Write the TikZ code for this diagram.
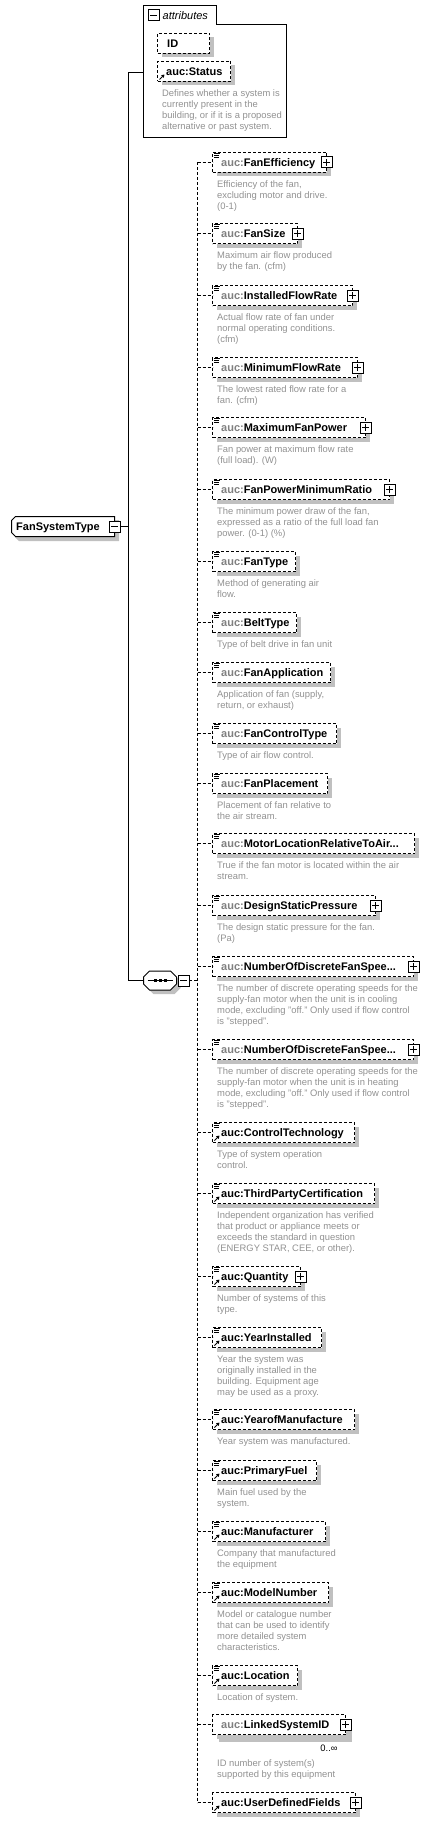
\documentclass[tikz,border=0pt]{standalone}
\usepackage{fontspec}
\setmainfont{Liberation Sans}
\usetikzlibrary{calc,arrows.meta}
\definecolor{shadowc}{RGB}{192,192,192}
\definecolor{descc}{RGB}{145,145,145}
\definecolor{pfxc}{RGB}{128,128,128}
\tikzset{
  shadowed/.style={preaction={draw=none, fill=shadowc, transform canvas={shift={(4pt,-4pt)}}}},
  ebox/.style={rectangle, draw, dash pattern=on 3pt off 2pt, line width=1pt, fill=white, shadowed, minimum height=20pt, inner sep=0pt, outer sep=0pt},
  etext/.style={anchor=base west, inner sep=0pt, font=\bfseries\fontsize{11}{13}\selectfont},
  desc/.style={anchor=base west, inner sep=0pt, text=descc, font=\fontsize{9.4}{11}\selectfont},
  pmbox/.style={rectangle, draw, line width=1pt, fill=white, minimum size=11pt, inner sep=0pt, outer sep=0pt},
  plusbox/.style={pmbox, path picture={\draw[line width=1pt] ($(path picture bounding box.center)+(-3.5,0)$) -- ++(7,0) ($(path picture bounding box.center)+(0,-3.5)$) -- ++(0,7);}},
  minusbox/.style={pmbox, path picture={\draw[line width=1pt] ($(path picture bounding box.center)+(-3.5,0)$) -- ++(7,0);}},
  conn/.style={line width=1pt},
  dconn/.style={line width=1pt, dash pattern=on 3pt off 2pt},
  annl/.style={line width=0.8pt},
  refarrow/.style={line width=1pt, -{Triangle[length=3pt,width=3.5pt]}},
}
\newcommand\elem[5]{%
  \node[ebox, minimum width={#3-212}, anchor=north west] (#1) at (212.5,#2+0.5) {};
  \draw[dconn] (spine |- #1.west) -- (#1.west);
  \node[etext] (#1-t) at ($(#1.west)+(8.5,4)$) {\textcolor{#4}{auc:}#5};}
\newcommand\descr[3][0]{\foreach \dl [count=\i] in {#3}{\node[desc] (#2-d\i) at ($(#2.south west)+(4.5,#1+4+11*\i)$) {\dl};}}
\newcommand\plusmark[1]{\node[plusbox] (#1-p) at (#1.east) {};}
\newcommand\annmark[1]{\draw[annl] ($(#1.north west)+(1.5,0.5)$) -- ++(6,0) ($(#1.north west)+(1.5,2.5)$) -- ++(5,0) ($(#1.north west)+(1.5,4.5)$) -- ++(5,0);}
\newcommand\refmark[1]{\draw[refarrow] ($(#1.south west)+(2,-2)$) -- ++(5,-5);}
\begin{document}
\begin{tikzpicture}[x=1pt, y=-1pt]
\useasboundingbox (0,0) rectangle (428,1822);
\coordinate (spine) at (197.5,980.5);
% attributes
\draw[conn] (143.5,5.5) -- (216.5,5.5) -- (216.5,24.5) -- (286.5,24.5) -- (286.5,137.5) -- (143.5,137.5) -- cycle;
\coordinate (attrbody) at (143.5,72.5);
\node[minusbox] (attr-m) at (153.5,15.5) {};
\node[anchor=base west, inner sep=0pt, font=\itshape\fontsize{11}{13}\selectfont] (attr-t) at (162.5,19.5) {attributes};
\node[ebox, minimum width=52pt, anchor=north west] (id) at (157.5,33.5) {};
\node[etext] (id-t) at ($(id.west)+(9.5,4)$) {ID};
\node[ebox, minimum width=73pt, anchor=north west] (status) at (157.5,61.5) {};
\node[etext] (status-t) at ($(status.west)+(8.5,4)$) {auc:Status};
\refmark{status}
\descr{status}{{Defines whether a system is},{currently present in the},{building, or if it is a proposed},{alternative or past system.}}
% FanSystemType
\fill[shadowc] (19,520) -- (119,520) -- (119,541) -- (19,541) -- (15,537) -- (15,524) -- cycle;
\draw[conn, fill=white] (15.5,516.5) -- (114.5,516.5) -- (114.5,536.5) -- (15.5,536.5) -- (11.5,532.5) -- (11.5,520.5) -- cycle;
\node[etext] (fst) at (16,530.5) {FanSystemType};
\node[minusbox] (fst-m) at (114.5,526.5) {};
% sequence
\fill[shadowc] (153.5,975) -- (174.5,975) -- (180.5,981) -- (180.5,988) -- (174.5,994) -- (153.5,994) -- (147.5,988) -- (147.5,981) -- cycle;
\draw[conn, fill=white] (149.5,971) -- (170.5,971) -- (176.5,977) -- (176.5,984) -- (170.5,990) -- (149.5,990) -- (143.5,984) -- (143.5,977) -- cycle;
\node[inner sep=0pt, minimum width=33pt, minimum height=19pt] (seq) at (160,980.5) {};
\draw[conn] ($(seq.center)+(-12.5,0)$) -- ++(25,0);
\fill ($(seq.center)+(-6.5,-1.5)$) rectangle ++(3,3);
\fill ($(seq.center)+(-1.5,-1.5)$) rectangle ++(3,3);
\fill ($(seq.center)+(3.5,-1.5)$) rectangle ++(3,3);
\node[minusbox] (seq-m) at (183.5,980.5) {};
% solid connectors
\coordinate (trunk) at (128.5,526.5);
\draw[conn] (fst-m.east) -- (trunk);
\draw[conn] (attrbody) -| (trunk) |- (seq.west);
\draw[dconn] (seq-m.east) -- (spine);
% elements
\elem{e1}{152}{326}{pfxc}{FanEfficiency}\plusmark{e1}\annmark{e1}
\descr{e1}{{Efficiency of the fan,},{excluding motor and drive.},{(0-1)}}
\elem{e2}{223}{297}{pfxc}{FanSize}\plusmark{e2}\annmark{e2}
\descr{e2}{{Maximum air flow produced},{by the fan. (cfm)}}
\elem{e3}{285}{352}{pfxc}{InstalledFlowRate}\plusmark{e3}\annmark{e3}
\descr{e3}{{Actual flow rate of fan under},{normal operating conditions.},{(cfm)}}
\elem{e4}{357}{357}{pfxc}{MinimumFlowRate}\plusmark{e4}\annmark{e4}
\descr{e4}{{The lowest rated flow rate for a},{fan. (cfm)}}
\elem{e5}{417}{365}{pfxc}{MaximumFanPower}\plusmark{e5}\annmark{e5}
\descr{e5}{{Fan power at maximum flow rate},{(full load). (W)}}
\elem{e6}{479}{389}{pfxc}{FanPowerMinimumRatio}\plusmark{e6}\annmark{e6}
\descr{e6}{{The minimum power draw of the fan,},{expressed as a ratio of the full load fan},{power. (0-1) (\%)}}
\elem{e7}{551}{295}{pfxc}{FanType}\annmark{e7}
\descr{e7}{{Method of generating air},{flow.}}
\elem{e8}{612}{296}{pfxc}{BeltType}\annmark{e8}
\descr{e8}{{Type of belt drive in fan unit}}
\elem{e9}{662}{330}{pfxc}{FanApplication}\annmark{e9}
\descr{e9}{{Application of fan (supply,},{return, or exhaust)}}
\elem{e10}{723}{336}{pfxc}{FanControlType}\annmark{e10}
\descr{e10}{{Type of air flow control.}}
\elem{e11}{773}{327}{pfxc}{FanPlacement}\annmark{e11}
\descr{e11}{{Placement of fan relative to},{the air stream.}}
\elem{e12}{833}{414}{pfxc}{MotorLocationRelativeToAir...}\annmark{e12}
\descr{e12}{{True if the fan motor is located within the air},{stream.}}
\elem{e13}{895}{375}{pfxc}{DesignStaticPressure}\plusmark{e13}\annmark{e13}
\descr{e13}{{The design static pressure for the fan.},{(Pa)}}
\elem{e14}{956}{413}{pfxc}{NumberOfDiscreteFanSpee...}\plusmark{e14}\annmark{e14}
\descr{e14}{{The number of discrete operating speeds for the},{supply-fan motor when the unit is in cooling},{mode, excluding "off." Only used if flow control},{is "stepped".}}
\elem{e15}{1039}{413}{pfxc}{NumberOfDiscreteFanSpee...}\plusmark{e15}\annmark{e15}
\descr{e15}{{The number of discrete operating speeds for the},{supply-fan motor when the unit is in heating},{mode, excluding "off." Only used if flow control},{is "stepped".}}
\elem{e16}{1122}{354}{black}{ControlTechnology}\annmark{e16}\refmark{e16}
\descr{e16}{{Type of system operation},{control.}}
\elem{e17}{1183}{374}{black}{ThirdPartyCertification}\annmark{e17}\refmark{e17}
\descr{e17}{{Independent organization has verified},{that product or appliance meets or},{exceeds the standard in question},{(ENERGY STAR, CEE, or other).}}
\elem{e18}{1266}{300}{black}{Quantity}\plusmark{e18}\annmark{e18}\refmark{e18}
\descr{e18}{{Number of systems of this},{type.}}
\elem{e19}{1327}{321}{black}{YearInstalled}\annmark{e19}\refmark{e19}
\descr{e19}{{Year the system was},{originally installed in the},{building. Equipment age},{may be used as a proxy.}}
\elem{e20}{1409}{354}{black}{YearofManufacture}\annmark{e20}\refmark{e20}
\descr{e20}{{Year system was manufactured.}}
\elem{e21}{1460}{316}{black}{PrimaryFuel}\annmark{e21}\refmark{e21}
\descr{e21}{{Main fuel used by the},{system.}}
\elem{e22}{1521}{325}{black}{Manufacturer}\annmark{e22}\refmark{e22}
\descr{e22}{{Company that manufactured},{the equipment}}
\elem{e23}{1582}{328}{black}{ModelNumber}\annmark{e23}\refmark{e23}
\descr{e23}{{Model or catalogue number},{that can be used to identify},{more detailed system},{characteristics.}}
\elem{e24}{1665}{297}{black}{Location}\annmark{e24}\refmark{e24}
\descr{e24}{{Location of system.}}
\fill[shadowc] (219,1722) rectangle (352,1741.5);
\elem{e25}{1714}{345}{pfxc}{LinkedSystemID}\plusmark{e25}
\node[inner sep=0pt, font=\fontsize{9.4}{11}\selectfont] (e25-occ) at (329,1748) {0..∞};
\descr[17]{e25}{{ID number of system(s)},{supported by this equipment}}
\elem{e26}{1792}{355}{black}{UserDefinedFields}\plusmark{e26}\refmark{e26}
% spine
\draw[dconn] (spine |- e1.west) -- (spine |- e26.west);
\end{tikzpicture}
\end{document}
